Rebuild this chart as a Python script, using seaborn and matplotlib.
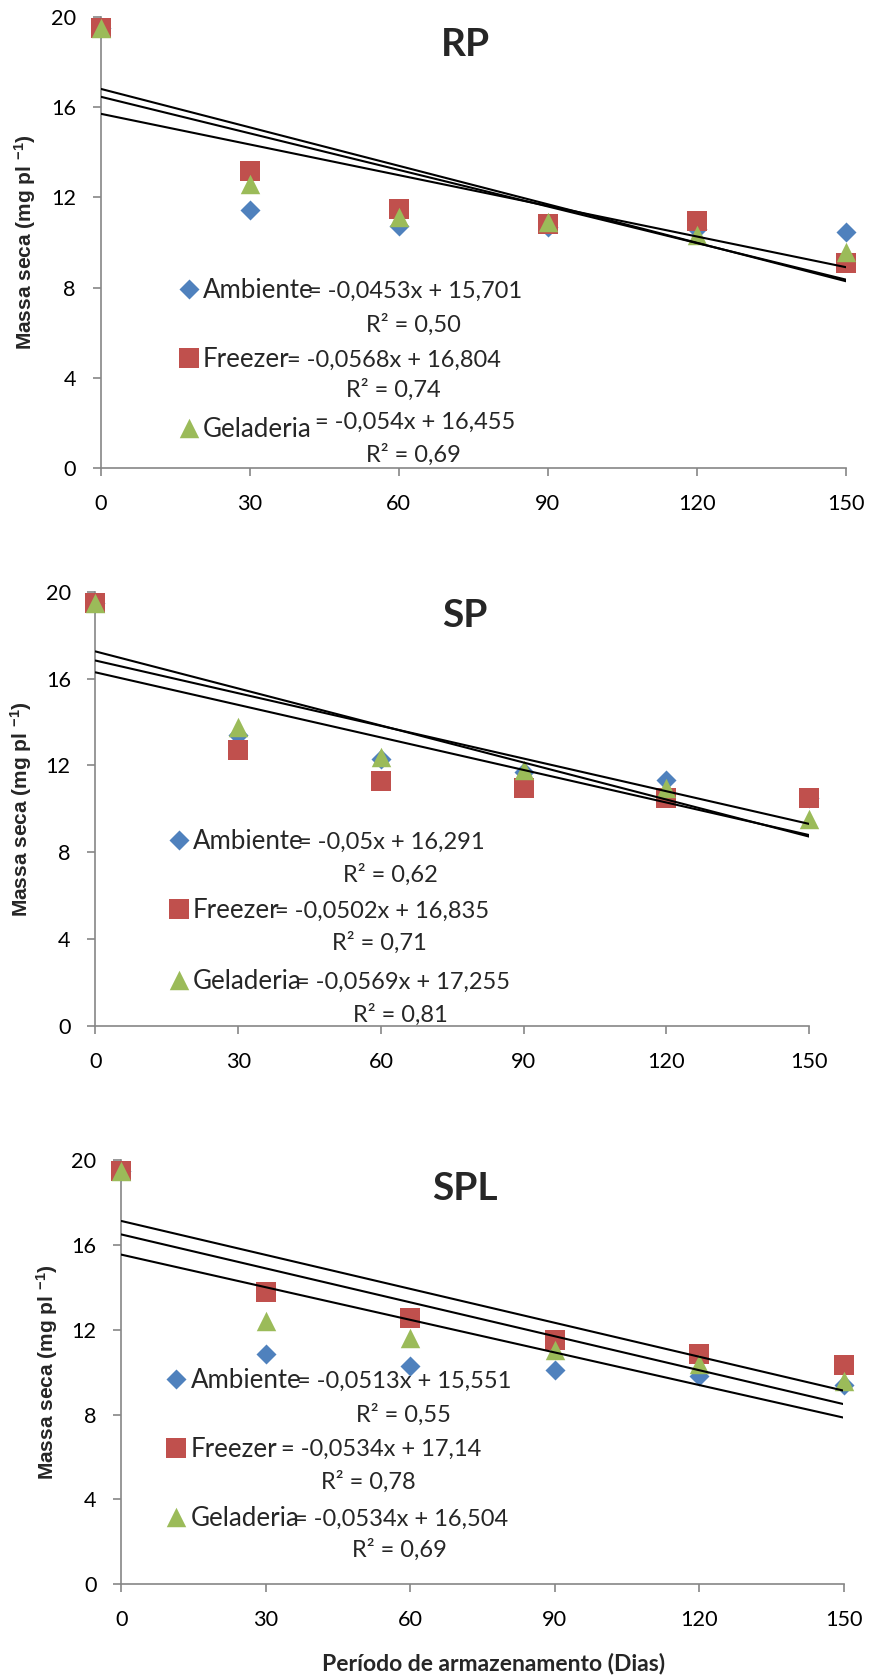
import matplotlib
matplotlib.use('Agg')
import matplotlib.pyplot as plt
import seaborn as sns
import pandas as pd
import numpy as np

# ---------------- data ----------------
dias = [0, 30, 60, 90, 120, 150]
tratamentos = ['Ambiente', 'Freezer', 'Geladeria']
paineis = ['RP', 'SP', 'SPL']
y_ticks = [0, 4, 8, 12, 16, 20]

rp_ambiente = [19.5, 11.45, 10.75, 10.7, 10.6, 10.45]
rp_freezer = [19.5, 13.15, 11.5, 10.8, 10.95, 9.1]
rp_geladeria = [19.5, 12.6, 11.15, 10.9, 10.35, 9.6]

sp_ambiente = [19.5, 13.4, 12.3, 11.7, 11.35, 10.5]
sp_freezer = [19.5, 12.7, 11.3, 10.95, 10.5, 10.5]
sp_geladeria = [19.5, 13.75, 12.4, 11.8, 10.95, 9.55]

spl_ambiente = [19.5, 10.85, 10.3, 10.1, 9.8, 9.4]
spl_freezer = [19.5, 13.8, 12.55, 11.5, 10.85, 10.35]
spl_geladeria = [19.5, 12.4, 11.6, 11.05, 10.4, 9.6]

rp_inclinacao = [-0.0453, -0.0568, -0.054]
rp_intercepto = [15.701, 16.804, 16.455]
rp_r2 = [0.50, 0.74, 0.69]

sp_inclinacao = [-0.05, -0.0502, -0.0569]
sp_intercepto = [16.291, 16.835, 17.255]
sp_r2 = [0.62, 0.71, 0.81]

spl_inclinacao = [-0.0513, -0.0534, -0.0534]
spl_intercepto = [15.551, 17.14, 16.504]
spl_r2 = [0.55, 0.78, 0.69]

dados = {
    'RP': ([rp_ambiente, rp_freezer, rp_geladeria], rp_inclinacao, rp_intercepto, rp_r2),
    'SP': ([sp_ambiente, sp_freezer, sp_geladeria], sp_inclinacao, sp_intercepto, sp_r2),
    'SPL': ([spl_ambiente, spl_freezer, spl_geladeria], spl_inclinacao, spl_intercepto, spl_r2),
}

# ---------------- style ----------------
cores = {'Ambiente': '#4F81BD', 'Freezer': '#C0504D', 'Geladeria': '#9BBB59'}
marcadores = {'Ambiente': 'D', 'Freezer': 's', 'Geladeria': '^'}
tamanhos = {'Ambiente': 104, 'Freezer': 196, 'Geladeria': 196}

W, H = 870, 1675
# axes box in pixels (left, right, top, bottom), title y, ylabel x, legend layout
layout = {
    'RP': dict(ax=(100.7, 846.0, 16.7, 468.3), title_y=42, ylab_x=25, key_x=189.3, lab_x=203,
               rows=[(289, 289, 308, 323, 413), (358, 358, 287, 388, 393), (428, 420, 315, 453, 413)]),
    'SP': dict(ax=(95.5, 809.0, 591.9, 1025.7), title_y=613, ylab_x=21, key_x=178.8, lab_x=193,
               rows=[(840, 840, 298, 873, 390), (909, 909, 275, 941, 379), (980, 980, 296, 1013, 400)]),
    'SPL': dict(ax=(121.3, 843.5, 1160.4, 1584.0), title_y=1186, ylab_x=47, key_x=176, lab_x=191,
                rows=[(1379, 1379, 297.5, 1413, 403), (1447.5, 1447.5, 281, 1480, 368), (1517, 1517, 293.6, 1548.6, 399)]),
}

sns.set_theme(style='white')
plt.rcParams['font.family'] = ['Lato', 'DejaVu Sans']
plt.rcParams['mathtext.fontset'] = 'custom'
plt.rcParams['mathtext.rm'] = 'Liberation Sans:bold'
plt.rcParams['mathtext.it'] = 'Liberation Sans:bold'
plt.rcParams['mathtext.bf'] = 'Liberation Sans:bold'


def fx(px):
    return px / W


def fy(py):
    return 1 - py / H


def num(v, fmt=None):
    s = (fmt.format(v) if fmt else repr(v))
    return s.replace('.', ',')


fig = plt.figure(figsize=(W / 100, H / 100), dpi=100)
fig.patch.set_facecolor('white')

LAB_FS = 18.6
EQ_FS = 17
CAP_LAB = 9.2
CAP_EQ = 8.5

for nome in paineis:
    L = layout[nome]
    x0, x1, yt, yb = L['ax']
    ax = fig.add_axes([fx(x0), fy(yb), (x1 - x0) / W, (yb - yt) / H])
    series, incl, inter, r2 = dados[nome]

    df = pd.DataFrame({
        'dias': dias * len(tratamentos),
        'massa': [v for s in series for v in s],
        'trat': [t for t in tratamentos for _ in dias],
    })
    for t in tratamentos:
        sub = df[df['trat'] == t]
        sns.scatterplot(data=sub, x='dias', y='massa', marker=marcadores[t], s=tamanhos[t],
                        color=cores[t], linewidth=0, clip_on=False, zorder=3, ax=ax, legend=False)

    xs = np.array([dias[0], dias[-1]], dtype=float)
    for a, b in zip(incl, inter):
        sns.lineplot(x=xs, y=b + a * xs, color='black', linewidth=1.5, ax=ax, zorder=4,
                     legend=False, estimator=None)

    ax.set_xlim(0, 150)
    ax.set_ylim(0, 20)
    ax.set_xticks(dias)
    ax.set_xticklabels([str(d) for d in dias])
    ax.set_yticks(y_ticks)
    ax.set_yticklabels([str(v) for v in y_ticks])
    ax.set_facecolor('none')
    for s in ['top', 'right']:
        ax.spines[s].set_visible(False)
    for s in ['left', 'bottom']:
        ax.spines[s].set_color('#868686')
        ax.spines[s].set_linewidth(1.2)
    ax.tick_params(axis='both', direction='out', length=5.8, width=1.2, color='#868686',
                   labelsize=15.6, labelcolor='black', bottom=True, left=True)
    ax.tick_params(axis='x', pad=13.0)
    ax.tick_params(axis='y', pad=12.0)
    ax.set_xlabel('')
    ax.set_ylabel('')

    # title
    fig.text(fx(465), fy(L['title_y'] + 14), nome, ha='center', va='baseline',
             fontsize=28, fontweight='bold')
    # y label
    fig.text(fx(L['ylab_x']), fy((yt + yb) / 2), r'Massa seca (mg pl $^{-1}$)', rotation=90,
             ha='center', va='center', fontsize=15, fontweight='bold', family='Liberation Sans')

    # legend keys + trendline labels
    for t, a, b, r, row in zip(tratamentos, incl, inter, r2, L['rows']):
        my, ey, ex, ry, rcx = row
        ax.scatter([fx(L['key_x'])], [fy(my)], transform=fig.transFigure, marker=marcadores[t],
                   s=tamanhos[t], color=cores[t], linewidth=0, clip_on=False, zorder=5)
        fig.text(fx(L['lab_x']), fy(my + CAP_LAB), t, ha='left', va='baseline', fontsize=LAB_FS)
        eq = '= {}x + {}'.format(num(a), num(b))
        fig.text(fx(ex), fy(ey + CAP_EQ), eq, ha='left', va='baseline', fontsize=EQ_FS)
        fig.text(fx(rcx), fy(ry + CAP_EQ), 'R² = ' + num(r, '{:.2f}'), ha='center', va='baseline',
                 fontsize=EQ_FS)

    if nome == 'SPL':
        fig.text(fx(493.7), fy(1670), 'Período de armazenamento (Dias)', ha='center', va='baseline',
                 fontsize=16.5, fontweight='bold')

fig.savefig('out.png', dpi=100, facecolor='white')
